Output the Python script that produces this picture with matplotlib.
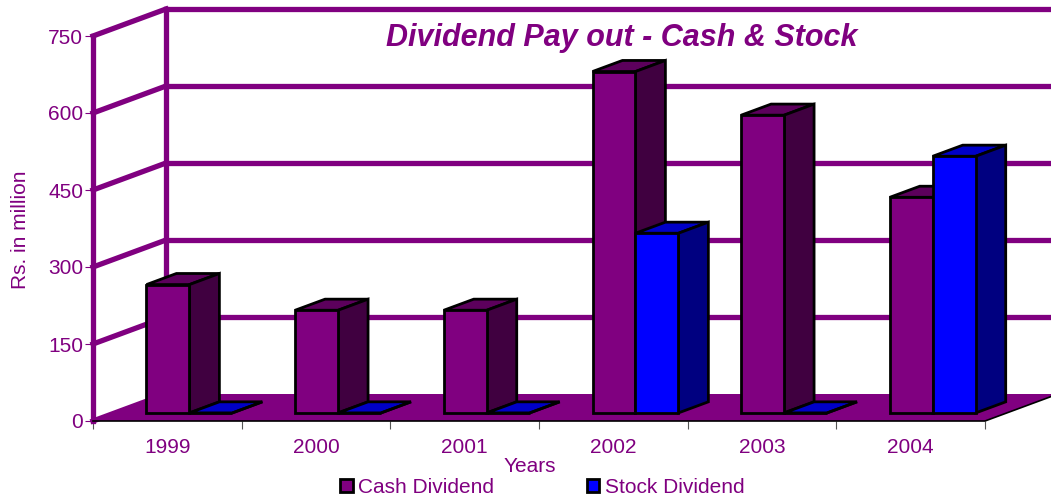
import matplotlib
matplotlib.use("Agg")
import matplotlib.pyplot as plt
from matplotlib.patches import Patch

plt.rcParams['font.family'] = ['Liberation Sans', 'DejaVu Sans']

YEARS = ['1999', '2000', '2001', '2002', '2003', '2004']
CASH = [250, 200, 200, 665, 580, 420]
STOCK = [0, 0, 0, 350, 0, 500]
Y_TICKS = [0, 150, 300, 450, 600, 750]

PURPLE = '#800080'
PURPLE_TOP = '#5c005c'
PURPLE_SIDE = '#400040'
BLUE = '#0000ff'
BLUE_TOP = '#0000c8'
BLUE_SIDE = '#000080'

W, H = 1051, 497
CAT_PX = 148.67
VAL_PX = 385 / 750

# oblique offset of the back wall, in data units
WALL_DX = 73 / CAT_PX
WALL_DY = 27 / VAL_PX
BAR_W = 0.289
GAP = 0.2125
BAR_FRONT = 0.3
BAR_DEPTH = 0.41
WALL_LW = 3.8
FONT = 15


def proj(x, v, depth=0.0):
    """Fake 3D: depth 0 is the front of the floor, depth 1 the back wall."""
    return x + depth * WALL_DX, v + depth * WALL_DY


def draw_bar(ax, x, value, front, top, side):
    d0, d1 = BAR_FRONT, BAR_FRONT + BAR_DEPTH
    x1 = x + BAR_W
    faces = [
        ([(x, value, d0), (x1, value, d0), (x1, value, d1), (x, value, d1)], top),
        ([(x1, 0, d0), (x1, value, d0), (x1, value, d1), (x1, 0, d1)], side),
        ([(x, 0, d0), (x1, 0, d0), (x1, value, d0), (x, value, d0)], front),
    ]
    for corners, color in faces:
        pts = [proj(*c) for c in corners]
        ax.fill([p[0] for p in pts], [p[1] for p in pts], facecolor=color,
                edgecolor='black', linewidth=2.0, joinstyle='miter', zorder=5)


fig = plt.figure(figsize=(W / 100, H / 100), dpi=100)
ax = fig.add_axes([93 / W, (H - 421) / H, (W - 93) / W, 421 / H])
n = len(YEARS)
ax.set_xlim(0, (W - 93) / CAT_PX)
ax.set_ylim(0, 421 / VAL_PX)
for s in ax.spines.values():
    s.set_visible(False)

# walls
right = ax.get_xlim()[1] + 1
for v in Y_TICKS:
    bx, by = proj(0, v, 1)
    ax.plot([0, bx], [v, by], color=PURPLE, lw=WALL_LW, zorder=2, clip_on=False,
            solid_capstyle='projecting')
    if v > 0:
        ax.plot([bx, right], [by, by], color=PURPLE, lw=WALL_LW, zorder=2)
ax.plot([0, 0], [0, Y_TICKS[-1]], color=PURPLE, lw=WALL_LW, zorder=2, clip_on=False)
bx, by = proj(0, Y_TICKS[-1], 1)
ax.plot([bx, bx], [proj(0, 0, 1)[1], by], color=PURPLE, lw=WALL_LW, zorder=2)

# floor
floor = [proj(0, 0), proj(n, 0), proj(n, 0, 1), proj(0, 0, 1)]
ax.fill([p[0] for p in floor], [p[1] for p in floor], color=PURPLE, lw=0, zorder=3)
ax.plot([0, n, proj(n, 0, 1)[0]], [0, 0, proj(n, 0, 1)[1]], color='black', lw=1.2,
        zorder=4, clip_on=False)

for i in range(n):
    draw_bar(ax, i + GAP, CASH[i], PURPLE, PURPLE_TOP, PURPLE_SIDE)
    draw_bar(ax, i + GAP + BAR_W, STOCK[i], BLUE, BLUE_TOP, BLUE_SIDE)

ax.set_yticks(Y_TICKS)
ax.set_xticks(range(n + 1))
ax.set_xticklabels([])
ax.set_xticks([i + 0.5 for i in range(n)], minor=True)
ax.set_xticklabels(YEARS, minor=True)
ax.tick_params(axis='x', which='major', length=6, width=0.8, color='#555555')
ax.tick_params(axis='x', which='minor', length=0, pad=12.5, labelsize=FONT, labelcolor=PURPLE)
ax.tick_params(axis='y', length=5.5, width=0.8, color=PURPLE, pad=1.5, labelsize=FONT,
               labelcolor=PURPLE)

fig.text(622 / W, 1 - 38 / H, 'Dividend Pay out - Cash & Stock', color=PURPLE, fontsize=22,
         fontweight='bold', fontstyle='italic', ha='center', va='center')
fig.text(530 / W, 1 - 466 / H, 'Years', color=PURPLE, fontsize=FONT, ha='center', va='center')
fig.text(21 / W, 1 - 230 / H, 'Rs. in million', color=PURPLE, fontsize=FONT, rotation=90,
         ha='center', va='center')

handles = [Patch(facecolor=PURPLE, edgecolor='black', lw=2.0, label='Cash Dividend'),
           Patch(facecolor=BLUE, edgecolor='black', lw=2.0, label='Stock Dividend')]
fig.legend(handles=handles, ncol=2, frameon=False, fontsize=FONT, labelcolor=PURPLE,
           loc='center', bbox_to_anchor=(542 / W, 1 - 487.5 / H), handlelength=0.62,
           handleheight=0.62, handletextpad=0.25, columnspacing=4.45, borderpad=0,
           borderaxespad=0)

fig.savefig('out.png', dpi=100)
